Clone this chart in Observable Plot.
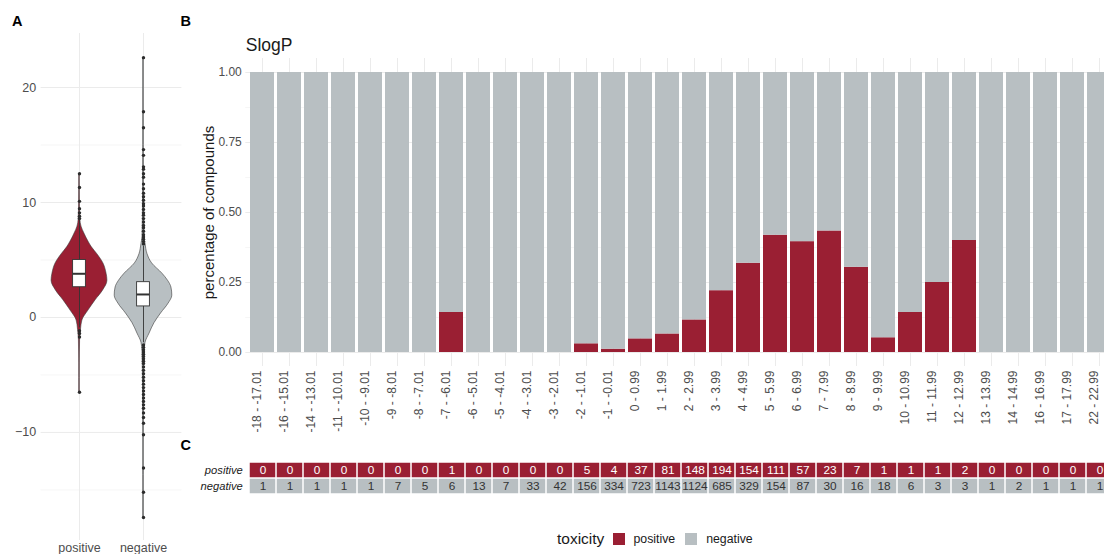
<!DOCTYPE html>
<html>
<head>
<meta charset="utf-8">
<script src="https://cdn.jsdelivr.net/npm/d3@7"></script>
<script src="https://cdn.jsdelivr.net/npm/@observablehq/plot@0.6"></script>
<style>
  html, body { margin: 0; padding: 0; background: #fff; overflow: hidden; }
  #fig { position: relative; width: 1104px; height: 554px; overflow: hidden;
         font-family: "Liberation Sans", Arial, sans-serif; color: #1a1a1a; }
  .abs { position: absolute; }
  .tag { font-weight: bold; font-size: 14.5px; line-height: 1; color: #000; }
  #fig .tox-swatches { font-family: "Liberation Sans", Arial, sans-serif !important; font-size: 12.3px !important;
                       color: #1a1a1a !important; min-height: 0 !important; margin: 0 !important; }
  #fig .tox-swatch { margin-right: 10.3px !important; }
  #fig .tox-swatch > svg { margin-right: 8.7px !important; }
</style>
</head>
<body>
<div id="fig"></div>
<script>
// SlogP bins and compound counts per toxicity class
const bins = ["-18 - -17.01", "-16 - -15.01", "-14 - -13.01", "-11 - -10.01", "-10 - -9.01", "-9 - -8.01",
  "-8 - -7.01", "-7 - -6.01", "-6 - -5.01", "-5 - -4.01", "-4 - -3.01", "-3 - -2.01", "-2 - -1.01",
  "-1 - -0.01", "0 - 0.99", "1 - 1.99", "2 - 2.99", "3 - 3.99", "4 - 4.99", "5 - 5.99", "6 - 6.99",
  "7 - 7.99", "8 - 8.99", "9 - 9.99", "10 - 10.99", "11 - 11.99", "12 - 12.99", "13 - 13.99",
  "14 - 14.99", "16 - 16.99", "17 - 17.99", "22 - 22.99"];
const positiveCounts = [0, 0, 0, 0, 0, 0, 0, 1, 0, 0, 0, 0, 5, 4, 37, 81, 148, 194, 154, 111, 57, 23, 7, 1, 1, 1, 2, 0, 0, 0, 0, 0];
const negativeCounts = [1, 1, 1, 1, 1, 7, 5, 6, 13, 7, 33, 42, 156, 334, 723, 1143, 1124, 685, 329, 154, 87, 30, 16, 18, 6, 3, 3, 1, 2, 1, 1, 1];

const toxicity = ["positive", "negative"];
const toxColors = ["#9a1f33", "#b8bfc2"];

// Violin profiles: SlogP value and relative density (1 = widest)
const posViolinValue   = [-6.5, -4, -2, -1.1, -0.26, 0.6, 1.5, 2.35, 3.2, 3.8, 4.7, 5.5, 6.1, 6.6, 7.3, 7.9, 8.5, 10, 12.4];
const posViolinDensity = [0.009, 0.01, 0.02, 0.05, 0.1, 0.31, 0.56, 0.82, 0.97, 0.94, 0.83, 0.62, 0.43, 0.31, 0.17, 0.07, 0.03, 0.014, 0.009];
const negViolinValue   = [-17.4, -10, -6, -3, -2.2, -1.4, -0.5, 0.35, 1.2, 1.9, 2.6, 3.2, 3.8, 4.7, 5.5, 6.4, 7, 10, 15, 22.6];
const negViolinDensity = [0.009, 0.01, 0.017, 0.035, 0.07, 0.21, 0.38, 0.61, 0.87, 1, 0.97, 0.85, 0.66, 0.3, 0.14, 0.07, 0.035, 0.017, 0.01, 0.009];

// Box plot statistics (positive, negative)
const boxQ1 = [2.63, 0.96];
const boxMedian = [3.8, 2.0];
const boxQ3 = [5.0, 3.07];
const whiskerLow = [-0.9, -2.2];
const whiskerHigh = [8.5, 6.2];

// Outlying compounds
const posOutliers = [12.5, 11.3, 10.1, 9.45, 9.1, 8.8, 8.6, -1.15, -1.4, -1.7, -6.5];
const negOutliers = [22.6, 17.9, 16.5, 14.6, 14.1, 13.1, 12.9, 12.5, 12.2, 11.6, 11.2, 10.8, 10.5, 10.2, 9.9, 9.7,
  9.4, 9.1, 8.9, 8.6, 8.3, 8.0, 7.8, 7.5, 7.2, 7.0, 6.8, 6.6, 6.4, -2.4, -2.6, -2.8, -3.0, -3.2, -3.4, -3.6,
  -3.8, -4.0, -4.3, -4.6, -4.9, -5.2, -5.5, -5.8, -6.1, -6.4, -6.7, -7.0, -7.3, -7.6, -7.9, -8.3, -8.7, -9.2,
  -10.2, -13.1, -15.2, -17.4];

const font = "Liberation Sans, Arial, sans-serif";
const baseStyle = {background: "transparent", overflow: "visible", fontFamily: font, maxWidth: "none"};
const fig = document.getElementById("fig");

function place(node, left, top) {
  node.classList.add("abs");
  node.style.left = left + "px";
  node.style.top = top + "px";
  fig.appendChild(node);
  return node;
}

// ---- Panel A: violin + box plot ----
const groupPos = {positive: 1, negative: 2};
const halfWidth = 0.45;
const boxHalf = 0.1;
const violinRows = [
  ...posViolinValue.map((v, i) => ({group: "positive", value: v, density: posViolinDensity[i]})),
  ...negViolinValue.map((v, i) => ({group: "negative", value: v, density: negViolinDensity[i]}))
];
const boxRows = toxicity.map((g, i) => ({group: g, q1: boxQ1[i], median: boxMedian[i], q3: boxQ3[i], lower: whiskerLow[i], upper: whiskerHigh[i]}));
const outlierRows = [
  ...posOutliers.map(v => ({group: "positive", value: v})),
  ...negOutliers.map(v => ({group: "negative", value: v}))
];
const gx = d => groupPos[d.group];

const plotA = Plot.plot({
  width: 190, height: 554,
  marginLeft: 40.6, marginRight: 8.6, marginTop: 33, marginBottom: 14,
  style: baseStyle,
  x: {domain: [0.4, 2.6]},
  y: {domain: [-19.4, 24.7]},
  color: {domain: toxicity, range: toxColors},
  marks: [
    Plot.ruleY([-15, -5, 5, 15], {stroke: "#f2f2f2", strokeWidth: 0.7}),
    Plot.ruleY([-10, 0, 10, 20], {stroke: "#ebebeb", strokeWidth: 1}),
    Plot.ruleX([1, 2], {stroke: "#ebebeb", strokeWidth: 1}),
    Plot.areaX(violinRows, {
      y: "value",
      x1: d => gx(d) - d.density * halfWidth,
      x2: d => gx(d) + d.density * halfWidth,
      z: "group", fill: "group", stroke: "#3a3a3a", strokeWidth: 0.6, curve: "monotone-y"
    }),
    Plot.ruleX(boxRows, {x: gx, y1: "q3", y2: "upper", stroke: "#333", strokeWidth: 0.9}),
    Plot.ruleX(boxRows, {x: gx, y1: "lower", y2: "q1", stroke: "#333", strokeWidth: 0.9}),
    Plot.rect(boxRows, {x1: d => gx(d) - boxHalf, x2: d => gx(d) + boxHalf, y1: "q1", y2: "q3", fill: "white", stroke: "#333", strokeWidth: 0.9}),
    Plot.ruleY(boxRows, {y: "median", x1: d => gx(d) - boxHalf, x2: d => gx(d) + boxHalf, stroke: "#333", strokeWidth: 2}),
    Plot.dot(outlierRows, {x: gx, y: "value", r: 1.7, fill: "#2b2b2b"}),
    Plot.axisY({ticks: [-10, 0, 10, 20], tickSize: 0, tickPadding: 5, fontSize: 12.5, color: "#4d4d4d", label: null}),
    Plot.axisX({ticks: [1, 2], tickFormat: d => toxicity[d - 1], tickSize: 0, tickPadding: 3, fontSize: 12.5, color: "#4d4d4d", label: null})
  ]
});
place(plotA, 0, 0);

// ---- Panel B: share of toxic compounds per SlogP bin ----
const barRows = bins.flatMap((b, i) => [
  {bin: b, toxicity: "positive", count: positiveCounts[i]},
  {bin: b, toxicity: "negative", count: negativeCounts[i]}
]);

const plotB = Plot.plot({
  width: 934, height: 440,
  marginLeft: 59.3, marginRight: 3.7, marginTop: 58, marginBottom: 74,
  style: baseStyle,
  x: {type: "band", domain: bins, paddingInner: 0.1, paddingOuter: 0.15},
  y: {domain: [-0.05, 1.05]},
  color: {domain: toxicity, range: toxColors},
  marks: [
    Plot.gridY([0.125, 0.375, 0.625, 0.875], {stroke: "#f2f2f2", strokeOpacity: 1, strokeWidth: 0.7}),
    Plot.gridY([0, 0.25, 0.5, 0.75, 1], {stroke: "#ebebeb", strokeOpacity: 1}),
    Plot.gridX({stroke: "#ebebeb", strokeOpacity: 1}),
    Plot.barY(barRows, Plot.stackY({offset: "normalize", order: toxicity, x: "bin", y: "count", fill: "toxicity"})),
    Plot.axisY({ticks: [0, 0.25, 0.5, 0.75, 1], tickFormat: d3.format(".2f"), tickSize: 0, tickPadding: 4, fontSize: 12, color: "#4d4d4d", label: null}),
    Plot.axisX({tickRotate: -90, tickSize: 0, tickPadding: 4, fontSize: 12, color: "#4d4d4d", dx: -5, label: null}),
    Plot.text(["percentage of compounds"], {text: d => d, frameAnchor: "left", textAnchor: "middle", rotate: -90, lineAnchor: "bottom", dx: -32.3, fontSize: 15, fill: "#1a1a1a"}),
    Plot.text(["SlogP"], {text: d => d, frameAnchor: "top-left", textAnchor: "start", lineAnchor: "bottom", dy: -7.3, fontSize: 17.5, fill: "#1a1a1a"})
  ]
});
place(plotB, 186, 0);

// ---- Panel C: counts table ----
const plotC = Plot.plot({
  width: 934, height: 70,
  marginLeft: 59.3, marginRight: 3.7, marginTop: 22, marginBottom: 16,
  style: baseStyle,
  x: {type: "band", domain: bins, paddingInner: 0, paddingOuter: 0.1, axis: null},
  y: {type: "band", domain: toxicity, padding: 0},
  color: {domain: toxicity, range: toxColors},
  marks: [
    Plot.cell(barRows, {x: "bin", y: "toxicity", fill: "toxicity", inset: 0.75}),
    Plot.text(barRows.filter(d => d.toxicity === "positive"), {x: "bin", y: "toxicity", text: d => String(d.count), fill: "white", fontSize: 11.8}),
    Plot.text(barRows.filter(d => d.toxicity === "negative"), {x: "bin", y: "toxicity", text: d => String(d.count), fill: "#333", fontSize: 11.8}),
    Plot.axisY({tickSize: 0, tickPadding: 3, fontSize: 11.2, fontStyle: "italic", color: "#1a1a1a", label: null})
  ]
});
place(plotC, 186, 440);

// ---- Panel tags ----
[["A", 12, 13.8], ["B", 180.5, 13.8], ["C", 180.5, 437.8]].forEach(([t, x, y]) => {
  const d = document.createElement("div");
  d.className = "tag";
  d.textContent = t;
  place(d, x, y);
});

// ---- Legend ----
const legend = document.createElement("div");
legend.style.display = "flex";
legend.style.alignItems = "center";
legend.style.height = "20px";
const legendTitle = document.createElement("span");
legendTitle.textContent = "toxicity";
legendTitle.style.fontSize = "15.5px";
legendTitle.style.marginRight = "8.4px";
legendTitle.style.color = "#1a1a1a";
legend.appendChild(legendTitle);
legend.appendChild(Plot.legend({
  color: {type: "ordinal", domain: toxicity, range: toxColors},
  legend: "swatches", swatchSize: 12, className: "tox"
}));
place(legend, 557, 529);
</script>
</body>
</html>
